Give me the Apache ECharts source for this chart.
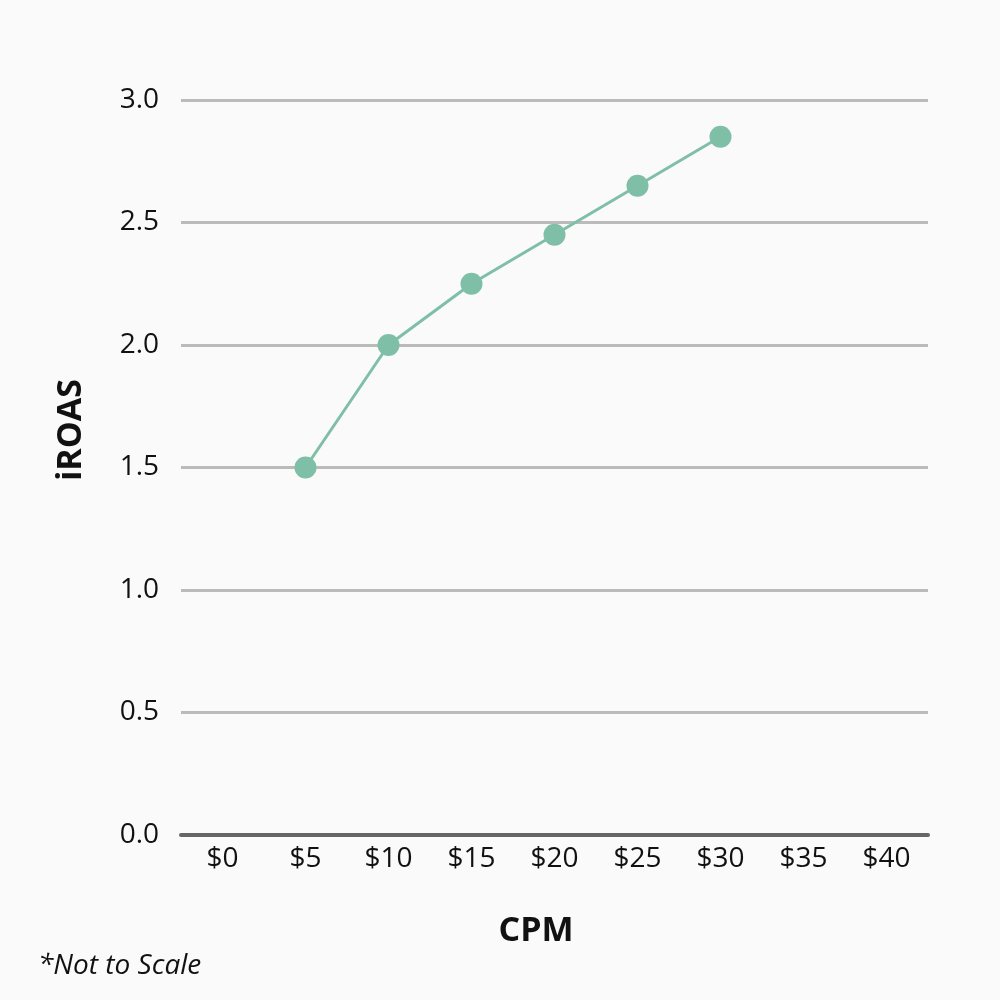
<!DOCTYPE html>
<html>
<head>
<meta charset="utf-8">
<script src="https://cdn.jsdelivr.net/npm/echarts@6/dist/echarts.min.js"></script>
<style>
  html, body { margin: 0; padding: 0; background: #fafafa; }
  #chart { width: 1000px; height: 1000px; }
</style>
</head>
<body>
<div id="chart"></div>
<script>
// data
var cpmLabels = ['$0', '$5', '$10', '$15', '$20', '$25', '$30', '$35', '$40'];
var iroasValues = [null, 1.5, 2.0, 2.25, 2.45, 2.65, 2.85, null, null];
var yTicks = [0, 0.5, 1.0, 1.5, 2.0, 2.5, 3.0];

var chart = echarts.init(document.getElementById('chart'));
var font = '"Open Sans", "Noto Sans", sans-serif';

chart.setOption({
  backgroundColor: '#fafafa',
  animation: false,
  textStyle: { fontFamily: font },
  grid: { left: 181, right: 72, top: 100, bottom: 165 },
  graphic: [{
    type: 'text',
    x: 71, y: 430,
    rotation: Math.PI / 2,
    style: { text: 'iROAS', fontFamily: font, fontWeight: 'bold', fontSize: 34, fill: '#111',
      align: 'center', verticalAlign: 'middle' }
  }, {
    type: 'text',
    x: 536, y: 931,
    style: { text: 'CPM', fontFamily: font, fontWeight: 'bold', fontSize: 34, fill: '#111',
      align: 'center', verticalAlign: 'middle' }
  }, {
    type: 'text',
    x: 38, y: 966,
    style: { text: '*Not to Scale', fontFamily: font, fontStyle: 'italic', fontSize: 28, fill: '#111',
      align: 'left', verticalAlign: 'middle' }
  }],
  xAxis: {
    type: 'category',
    data: cpmLabels,
    boundaryGap: true,
    axisLine: { lineStyle: { color: '#666', width: 4 } },
    axisTick: { show: false },
    axisLabel: { fontFamily: font, fontSize: 28, color: '#111', margin: 10 }
  },
  yAxis: {
    type: 'value',
    min: yTicks[0],
    max: yTicks[yTicks.length - 1],
    interval: 0.5,
    axisLine: { show: false },
    axisTick: { show: false },
    axisLabel: {
      fontFamily: font, fontSize: 28, color: '#111', margin: 22,
      formatter: function (v) { return v.toFixed(1); }
    },
    splitLine: { lineStyle: { color: '#bbb', width: 3 } }
  },
  series: [{
    type: 'line',
    data: iroasValues,
    connectNulls: false,
    symbol: 'circle',
    symbolSize: 22,
    lineStyle: { color: '#7fbfa8', width: 3 },
    itemStyle: { color: '#7fbfa8' }
  }]
});
</script>
</body>
</html>
